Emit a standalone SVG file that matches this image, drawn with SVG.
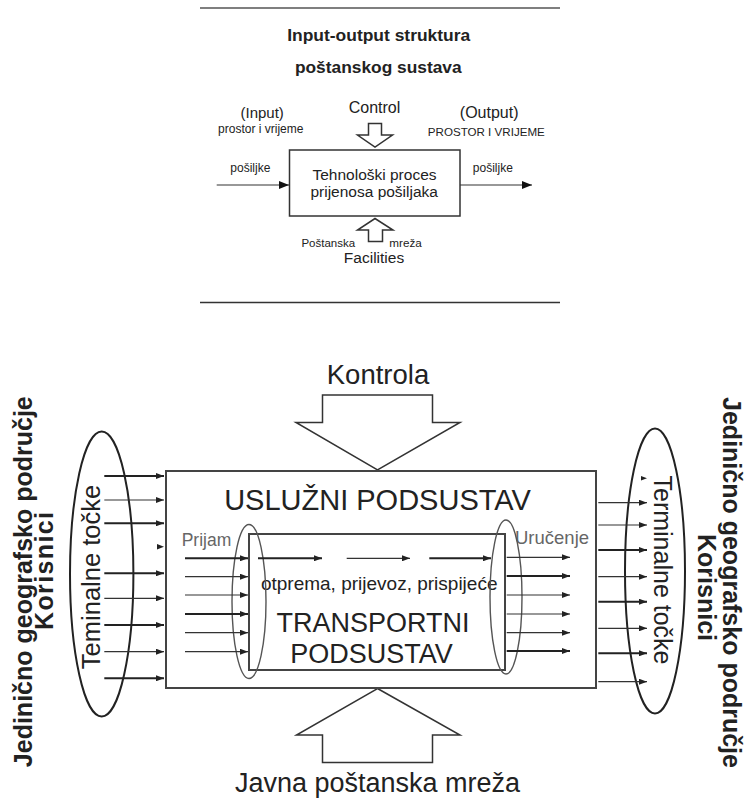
<svg xmlns="http://www.w3.org/2000/svg" width="745" height="803" viewBox="0 0 745 803">
<style>
text{font-family:"Liberation Sans",Arial,sans-serif;fill:#222}
.b{font-weight:bold}
.g{fill:#666}
.shape{fill:#fff;stroke:#333;stroke-width:1.5}
.box{fill:#fff;stroke:#444;stroke-width:2}
.th{stroke:#222;stroke-width:2;fill:none}
.tn{stroke:#333;stroke-width:1.2;fill:none}
.ell{fill:none;stroke:#222;stroke-width:2}
.iell{fill:none;stroke:#555;stroke-width:1.4}
</style>
<defs>
<marker id="ah" viewBox="0 0 8 6" refX="8" refY="3" markerWidth="8" markerHeight="6" markerUnits="userSpaceOnUse" orient="auto">
<path d="M0,0 L8,3 L0,6 Z" fill="#222"/>
</marker>
<marker id="ah2" viewBox="0 0 10 8" refX="10" refY="4" markerWidth="10" markerHeight="8" markerUnits="userSpaceOnUse" orient="auto">
<path d="M0,0 L10,4 L0,8 Z" fill="#111"/>
</marker>
</defs>

<g id="top-panel">
<line x1="200" y1="8" x2="560" y2="8" stroke="#555" stroke-width="1.5"/>
<line x1="200" y1="302.5" x2="560" y2="302.5" stroke="#333" stroke-width="1.5"/>
<text class="b" x="378.7" y="41" font-size="16.5" text-anchor="middle" textLength="183" lengthAdjust="spacingAndGlyphs">Input-output struktura</text>
<text class="b" x="378.3" y="72.5" font-size="16.5" text-anchor="middle" textLength="166.7" lengthAdjust="spacingAndGlyphs">poštanskog sustava</text>
</g>

<g id="t-control">
<text x="374.5" y="113" font-size="16" text-anchor="middle">Control</text>
<path class="shape" d="M368.5,123.5 H381.5 V135 H392.5 L375,147 L357.5,135 H368.5 Z" stroke-width="1.3"/>
</g>
<g id="t-input">
<text x="262.2" y="118.3" font-size="15" text-anchor="middle">(Input)</text>
<text x="260.8" y="133.3" font-size="12" text-anchor="middle">prostor i vrijeme</text>
<text x="250.3" y="171.7" font-size="12" text-anchor="middle">pošiljke</text>
</g>
<g id="t-output">
<text x="489.2" y="118.3" font-size="16" text-anchor="middle">(Output)</text>
<text x="486.3" y="136" font-size="11.6" text-anchor="middle">PROSTOR I VRIJEME</text>
<text x="492.8" y="171.7" font-size="12" text-anchor="middle">pošiljke</text>
</g>
<g id="t-process">
<rect class="shape" x="289.5" y="150" width="170.5" height="66"/>
<text x="374.5" y="180" font-size="15.5" text-anchor="middle">Tehnološki proces</text>
<text x="374.2" y="196.7" font-size="15.5" text-anchor="middle">prijenosa pošiljaka</text>
</g>
<g id="t-facilities">
<path class="shape" d="M375,218.5 L393,230 H382.5 V241.5 H368.5 V230 H357.5 Z" stroke-width="1.3"/>
<text x="328.3" y="246.7" font-size="11.5" text-anchor="middle">Poštanska</text>
<text x="405.5" y="246.7" font-size="11.7" text-anchor="middle">mreža</text>
<text x="374" y="263.3" font-size="15.5" text-anchor="middle">Facilities</text>
</g>
<g id="t-connectors">
<line class="tn" x1="216.7" y1="185" x2="289" y2="185" stroke-width="1.5" marker-end="url(#ah2)"/>
<line class="tn" x1="460" y1="185" x2="532" y2="185" stroke-width="1.5" marker-end="url(#ah2)"/>
</g>

<g id="kontrola">
<text x="378" y="384.3" font-size="27.5" text-anchor="middle">Kontrola</text>
<path class="shape" d="M322.5,395 H432.5 V422.5 H460 L377.5,470 L296,422.5 H322.5 Z"/>
</g>
<g id="mreza">
<path class="shape" d="M377.5,688.5 L460,735 H432.5 V762.5 H322.5 V735 H296.5 Z"/>
<text x="377.5" y="791.7" font-size="27" text-anchor="middle">Javna poštanska mreža</text>
</g>

<g id="usluzni">
<rect class="box" x="166" y="471" width="430" height="217"/>
<text x="377.5" y="510" font-size="29" text-anchor="middle" fill="#333">USLUŽNI PODSUSTAV</text>
<text class="g" x="181.7" y="546" font-size="17.5">Prijam</text>
<text class="g" x="515" y="543.5" font-size="18.5">Uručenje</text>
</g>

<g id="transportni">
<rect class="box" x="249" y="534" width="256" height="136" stroke="#555"/>
<text x="379.2" y="590" font-size="19" text-anchor="middle" fill="#555">otprema, prijevoz, prispijeće</text>
<text x="373" y="632" font-size="27" text-anchor="middle" fill="#333">TRANSPORTNI</text>
<text x="371.5" y="662.5" font-size="27" text-anchor="middle" fill="#333">PODSUSTAV</text>
<ellipse class="iell" cx="249" cy="601.5" rx="17" ry="77"/>
<ellipse class="iell" cx="506" cy="597" rx="16" ry="77"/>
</g>

<g id="left-users">
<ellipse class="ell" cx="101.7" cy="574" rx="31.7" ry="142.5"/>
<text x="0" y="0" font-size="25.5" text-anchor="middle" fill="#333" transform="translate(100,577) rotate(-90)">Teminalne točke</text>
<text class="b" x="0" y="0" font-size="25" text-anchor="middle" transform="translate(31.5,581.7) rotate(-90)">Jedinično geografsko područje</text>
<text class="b" x="0" y="0" font-size="25" text-anchor="middle" textLength="118" lengthAdjust="spacing" transform="translate(53.3,571) rotate(-90)">Korisnici</text>
</g>

<g id="right-users">
<ellipse class="ell" cx="655" cy="571" rx="30" ry="142.5"/>
<text x="0" y="0" font-size="25" text-anchor="middle" fill="#333" transform="translate(654,570) rotate(90)">Terminalne točke</text>
<text class="b" x="0" y="0" font-size="25" text-anchor="middle" transform="translate(722.5,582.5) rotate(90)">Jedinično geografsko područje</text>
<text class="b" x="0" y="0" font-size="25" text-anchor="middle" transform="translate(698.3,587.5) rotate(90)">Korisnici</text>
</g>

<g id="connectors">
<line class="th" x1="104.3" y1="476" x2="164" y2="476" marker-end="url(#ah)"/>
<line class="tn" x1="104.3" y1="500" x2="164" y2="500" marker-end="url(#ah)"/>
<line class="th" x1="104.3" y1="523.3" x2="164" y2="523.3" marker-end="url(#ah)"/>
<path d="M157,544 L164,546.7 L157,549.4 Z" fill="#222"/>
<line class="th" x1="104.3" y1="573.3" x2="164" y2="573.3" marker-end="url(#ah)"/>
<line class="tn" x1="104.3" y1="598.3" x2="164" y2="598.3" marker-end="url(#ah)"/>
<line class="th" x1="104.3" y1="625" x2="164" y2="625" marker-end="url(#ah)"/>
<line class="tn" x1="104.3" y1="651.7" x2="164" y2="651.7" marker-end="url(#ah)"/>
<line class="th" x1="104.3" y1="678.3" x2="164" y2="678.3" marker-end="url(#ah)"/>
<line class="th" x1="185" y1="558.3" x2="248" y2="558.3" marker-end="url(#ah)"/>
<line class="tn" x1="185" y1="576.7" x2="248" y2="576.7" marker-end="url(#ah)"/>
<line class="tn" x1="185" y1="595" x2="248" y2="595" marker-end="url(#ah)"/>
<line class="th" x1="185" y1="614" x2="248" y2="614" marker-end="url(#ah)"/>
<line class="tn" x1="185" y1="632.7" x2="248" y2="632.7" marker-end="url(#ah)"/>
<line class="tn" x1="185" y1="651.7" x2="248" y2="651.7" marker-end="url(#ah)"/>
<line class="th" x1="258" y1="558.3" x2="322" y2="558.3" marker-end="url(#ah)"/>
<line class="tn" x1="346.7" y1="558.3" x2="410" y2="558.3" marker-end="url(#ah)"/>
<line class="th" x1="429.3" y1="558.3" x2="491" y2="558.3" marker-end="url(#ah)"/>
<line class="tn" x1="506.7" y1="557.3" x2="570" y2="557.3" marker-end="url(#ah)"/>
<line class="th" x1="506.7" y1="576" x2="570" y2="576" marker-end="url(#ah)"/>
<line class="tn" x1="506.7" y1="595" x2="570" y2="595" marker-end="url(#ah)"/>
<line class="tn" x1="506.7" y1="614" x2="570" y2="614" marker-end="url(#ah)"/>
<line class="tn" x1="506.7" y1="632.7" x2="570" y2="632.7" marker-end="url(#ah)"/>
<line class="th" x1="506.7" y1="651" x2="570" y2="651" marker-end="url(#ah)"/>
<path d="M641,476 L647,478.3 L641,480.6 Z" fill="#222"/>
<line class="tn" x1="598.3" y1="502.7" x2="647" y2="502.7" marker-end="url(#ah)"/>
<line class="tn" x1="598.3" y1="525" x2="647" y2="525" marker-end="url(#ah)"/>
<line class="th" x1="598.3" y1="550" x2="647" y2="550" marker-end="url(#ah)"/>
<line class="tn" x1="598.3" y1="576.7" x2="647" y2="576.7" marker-end="url(#ah)"/>
<line class="th" x1="598.3" y1="601.7" x2="647" y2="601.7" marker-end="url(#ah)"/>
<line class="tn" x1="598.3" y1="628.3" x2="647" y2="628.3" marker-end="url(#ah)"/>
<line class="th" x1="598.3" y1="653.3" x2="647" y2="653.3" marker-end="url(#ah)"/>
<line class="tn" x1="598.3" y1="681.7" x2="647" y2="681.7" marker-end="url(#ah)"/>
</g>
</svg>
